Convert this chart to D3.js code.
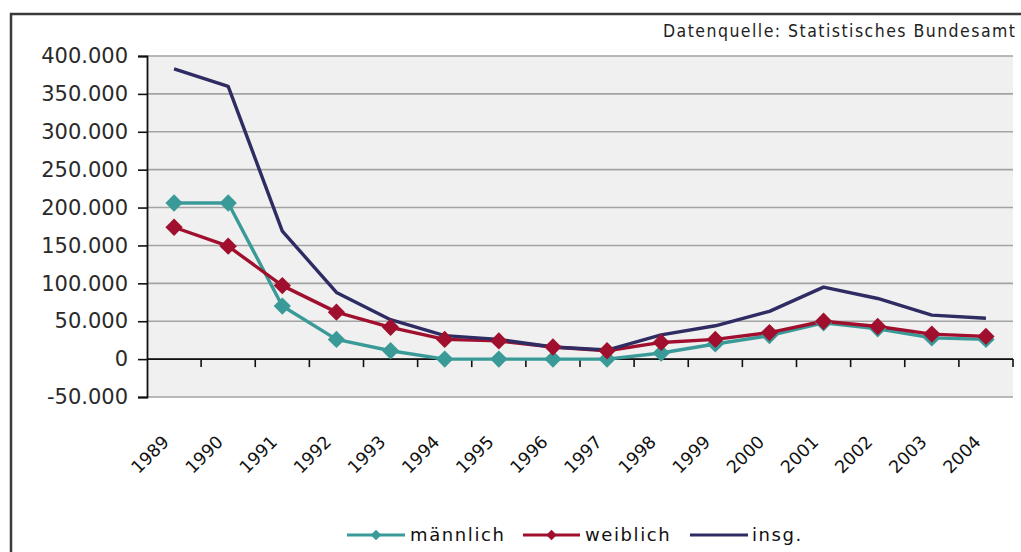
<!DOCTYPE html>
<html><head><meta charset="utf-8">
<script src="https://cdn.jsdelivr.net/npm/d3@7"></script>
<style>
html,body{margin:0;padding:0;background:#fff;overflow:hidden;}
svg{display:block;}
</style></head>
<body>
<svg id="chart" width="1021" height="552"></svg>
<script>
const years = ["1989","1990","1991","1992","1993","1994","1995","1996","1997","1998","1999","2000","2001","2002","2003","2004"];
const maennlich = [206000,206000,70000,26000,11000,0,0,0,0,8000,20000,31000,48000,40000,28000,26000];
const weiblich  = [174000,149000,97000,62000,42000,26000,24000,16000,11000,22000,26000,35000,50000,43000,33000,30000];
const insg      = [383000,360000,169000,88000,52000,31000,26000,16000,12000,32000,44000,63000,95000,80000,58000,54000];
const yTicks = [-50000,0,50000,100000,150000,200000,250000,300000,350000,400000];
const seriesNames = ["männlich","weiblich","insg."];
const sourceText = "Datenquelle: Statistisches Bundesamt";

(function(){
const svg = d3.select("#chart");
const pL = 147, pR = 1013, pT = 56, pB = 397;

const loc = d3.formatLocale({decimal:",", thousands:".", grouping:[3], currency:["","€"], minus:"-"});
const fmt = loc.format(",d");

const x = d3.scaleBand().domain(years).range([pL, pR]).padding(0);
const y = d3.scaleLinear().domain([-50000, 400000]).range([pB, pT]);
const cx = d => x(d) + x.bandwidth()/2;

// outer frame
svg.append("rect").attr("x",11).attr("y",14).attr("width",1100).attr("height",700)
  .attr("fill","#fff").attr("stroke","#3a3a3a").attr("stroke-width",2.5);

// plot background
svg.append("rect").attr("x",pL).attr("y",pT).attr("width",pR-pL).attr("height",pB-pT)
  .attr("fill","#f0f0f0");

// gridlines
svg.append("g").selectAll("line").data(yTicks).join("line")
  .attr("x1",pL).attr("x2",pR)
  .attr("y1",d=>y(d)).attr("y2",d=>y(d))
  .attr("stroke","#a3a3a3").attr("stroke-width",1.6);

// y axis
const yAxis = d3.axisLeft(y).tickValues(yTicks).tickFormat(fmt).tickSize(9).tickPadding(10);
const gy = svg.append("g").attr("transform",`translate(${pL},0)`).call(yAxis);
gy.select(".domain").attr("stroke","#111").attr("stroke-width",1.8);
gy.selectAll(".tick line").attr("stroke","#111").attr("stroke-width",1.6);
gy.selectAll(".tick text").attr("font-family","DejaVu Sans, Verdana, sans-serif")
  .attr("font-size",21).attr("fill","#2a2a2a");

// x axis at zero
const zeroY = y(0);
svg.append("line").attr("x1",pL).attr("x2",pR).attr("y1",zeroY).attr("y2",zeroY)
  .attr("stroke","#111").attr("stroke-width",1.8);
const boundaries = years.map(d=>x(d)).concat([pR]);
svg.append("g").selectAll("line").data(boundaries.slice(1)).join("line")
  .attr("x1",d=>d).attr("x2",d=>d).attr("y1",zeroY).attr("y2",zeroY+8)
  .attr("stroke","#111").attr("stroke-width",1.6);

// x labels
svg.append("g").selectAll("text").data(years).join("text")
  .attr("transform",d=>`translate(${cx(d)-4},${443}) rotate(-45)`)
  .attr("text-anchor","end")
  .attr("font-family","DejaVu Sans, Verdana, sans-serif")
  .attr("font-size",17.5).attr("fill","#111")
  .text(d=>d);

// lines
const colors = ["#3a9a98","#a0102e","#2e2c62"];
const data = [maennlich, weiblich, insg];
const line = d3.line().x((d,i)=>cx(years[i])).y(d=>y(d));
data.forEach((s,k)=>{
  svg.append("path").datum(s).attr("d",line).attr("fill","none")
    .attr("stroke",colors[k]).attr("stroke-width",3.4).attr("stroke-linejoin","round");
});
// markers
[0,1].forEach(k=>{
  svg.append("g").selectAll("path").data(data[k]).join("path")
    .attr("transform",(d,i)=>`translate(${cx(years[i])},${y(d)}) rotate(45)`)
    .attr("d", d3.symbol().type(d3.symbolSquare).size(150)())
    .attr("fill",colors[k]);
});

// legend
const legY = 535;
const leg = [
  {x1:347,x2:405,tx:410},
  {x1:523,x2:580,tx:585},
  {x1:690,x2:748,tx:752}
];
leg.forEach((l,k)=>{
  svg.append("line").attr("x1",l.x1).attr("x2",l.x2).attr("y1",legY).attr("y2",legY)
    .attr("stroke",colors[k]).attr("stroke-width",3);
  if(k<2){
    svg.append("path").attr("transform",`translate(${(l.x1+l.x2)/2},${legY}) rotate(45)`)
      .attr("d", d3.symbol().type(d3.symbolSquare).size(55)()).attr("fill",colors[k]);
  }
  svg.append("text").attr("x",l.tx).attr("y",legY+6)
    .attr("font-family","DejaVu Sans, Verdana, sans-serif").attr("font-size",18)
    .attr("letter-spacing",1.6).attr("fill","#111").text(seriesNames[k]);
});

// source
svg.append("text").attr("x",663).attr("y",37)
  .attr("font-family","DejaVu Sans Condensed, Liberation Sans Narrow, sans-serif")
  .attr("font-size",17.5).attr("fill","#222")
  .attr("textLength",352).attr("lengthAdjust","spacing")
  .text(sourceText);
})();
</script>
</body></html>
